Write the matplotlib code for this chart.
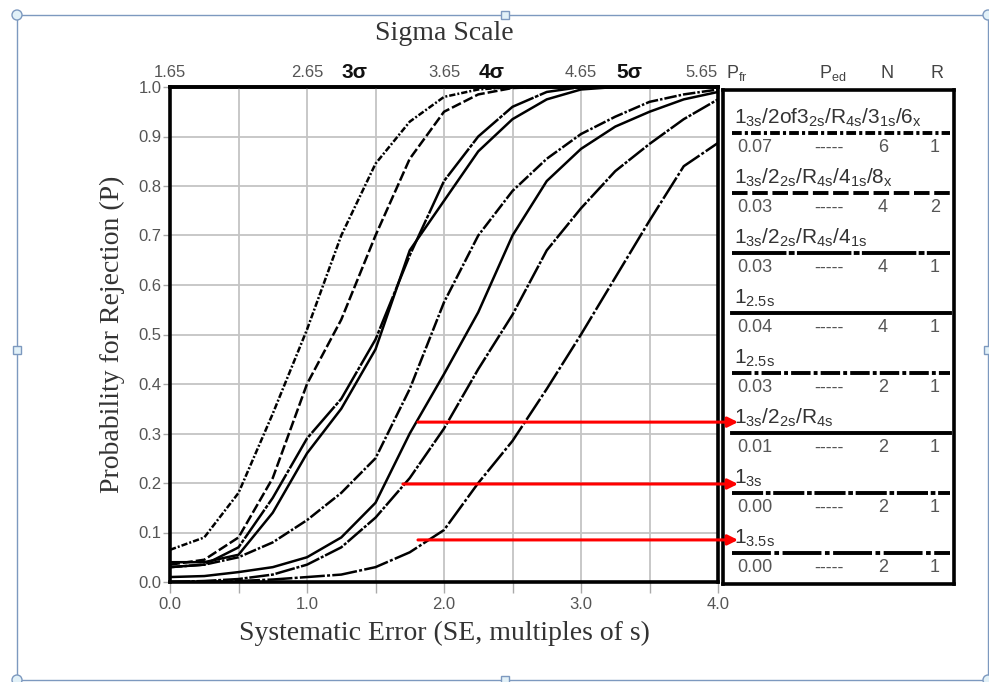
import matplotlib
matplotlib.use('Agg')
import matplotlib.pyplot as plt
from matplotlib.patches import Rectangle, Circle
import numpy as np

plt.rcParams['font.family'] = ['Liberation Sans', 'DejaVu Sans']
plt.rcParams['mathtext.fontset'] = 'custom'
plt.rcParams['mathtext.rm'] = 'Liberation Sans'
plt.rcParams['mathtext.it'] = 'Liberation Sans:italic'
plt.rcParams['mathtext.bf'] = 'Liberation Sans:bold'

se = [0.0, 0.25, 0.5, 0.75, 1.0, 1.25, 1.5, 1.75, 2.0,
      2.25, 2.5, 2.75, 3.0, 3.25, 3.5, 3.75, 4.0]

# probability for rejection, one list per QC procedure (legend order)
p_13s_2of32s_r4s_31s_6x = [0.065, 0.09, 0.18, 0.34, 0.51, 0.70, 0.845, 0.93, 0.98,
                           0.995, 1.0, 1.0, 1.0, 1.0, 1.0, 1.0, 1.0]
p_13s_22s_r4s_41s_8x = [0.035, 0.045, 0.09, 0.21, 0.40, 0.53, 0.70, 0.855, 0.95,
                        0.985, 0.998, 1.0, 1.0, 1.0, 1.0, 1.0, 1.0]
p_13s_22s_r4s_41s = [0.03, 0.035, 0.07, 0.17, 0.29, 0.37, 0.49, 0.66, 0.81,
                     0.90, 0.96, 0.99, 1.0, 1.0, 1.0, 1.0, 1.0]
p_125s_n4 = [0.04, 0.04, 0.055, 0.14, 0.26, 0.35, 0.47, 0.67, 0.77,
             0.87, 0.935, 0.975, 0.995, 1.0, 1.0, 1.0, 1.0]
p_125s_n2 = [0.03, 0.035, 0.05, 0.08, 0.125, 0.18, 0.25, 0.39, 0.565,
             0.70, 0.79, 0.855, 0.905, 0.94, 0.97, 0.985, 0.995]
p_13s_22s_r4s = [0.01, 0.012, 0.02, 0.03, 0.05, 0.09, 0.16, 0.30, 0.42,
                 0.545, 0.70, 0.81, 0.875, 0.92, 0.95, 0.975, 0.99]
p_13s = [0.0, 0.002, 0.006, 0.015, 0.035, 0.07, 0.13, 0.21, 0.31,
         0.43, 0.54, 0.67, 0.755, 0.83, 0.885, 0.935, 0.975]
p_135s = [0.0, 0.0, 0.002, 0.005, 0.01, 0.015, 0.03, 0.06, 0.105,
          0.20, 0.285, 0.39, 0.50, 0.615, 0.73, 0.84, 0.887]

curves = [p_13s_2of32s_r4s_31s_6x, p_13s_22s_r4s_41s_8x, p_13s_22s_r4s_41s,
          p_125s_n4, p_125s_n2, p_13s_22s_r4s, p_13s, p_135s]

rule_labels = [r'$\mathregular{1_{3s}/2of3_{2s}/R_{4s}/3_{1s}/6_{x}}$',
               r'$\mathregular{1_{3s}/2_{2s}/R_{4s}/4_{1s}/8_{x}}$',
               r'$\mathregular{1_{3s}/2_{2s}/R_{4s}/4_{1s}}$',
               r'$\mathregular{1_{2.5s}}$',
               r'$\mathregular{1_{2.5s}}$',
               r'$\mathregular{1_{3s}/2_{2s}/R_{4s}}$',
               r'$\mathregular{1_{3s}}$',
               r'$\mathregular{1_{3.5s}}$']
pfr_vals = ['0.07', '0.03', '0.03', '0.04', '0.03', '0.01', '0.00', '0.00']
ped_vals = ['-----'] * 8
n_vals = ['6', '4', '4', '4', '2', '2', '2', '2']
r_vals = ['1', '2', '1', '1', '1', '1', '1', '1']

sigma_ticks = [1.65, 2.65, 3.65, 4.65, 5.65]
sigma_marks = [3, 4, 5]

# red arrows: P level and SE where each one starts
arrow_p = [0.323, 0.198, 0.085]
arrow_se = [1.81, 1.70, 1.81]

styles = [(0, (2.5, 0.8, 0.8, 0.8)), (0, (4, 1.2)), (0, (14, 0.6, 1.5, 0.6)), '-',
          (0, (5, 0.8, 1, 0.8)), '-', (0, (8, 0.7, 1.2, 0.7)), (0, (10, 0.9, 1.2, 0.9))]

W, H = 989, 682


def box(l, t, r, b):
    return [l / W, 1 - b / H, (r - l) / W, (b - t) / H]


fig = plt.figure(figsize=(W / 100, H / 100), dpi=100)

# selection frame around the picture
ov = fig.add_axes([0, 0, 1, 1], zorder=-1)
ov.set_xlim(0, W)
ov.set_ylim(H, 0)
ov.axis('off')
edge = '#7d99bf'
ov.add_patch(Rectangle((17, 15), 971, 665, fill=False, ec=edge, lw=1.0))
for cx, cy in [(17, 15), (988, 15), (17, 680), (988, 680)]:
    ov.add_patch(Circle((cx, cy), 5, fc='#e2f1f8', ec=edge, lw=1.0))
for cx, cy in [(505, 15), (505, 680), (17, 350), (988, 350)]:
    ov.add_patch(Rectangle((cx - 4, cy - 4), 8, 8, fc='#e2f1f8', ec=edge, lw=1.0))

ax = fig.add_axes(box(170, 87, 718, 582), zorder=3)
for p, ls in zip(curves, styles):
    ax.plot(se, p, color='black', lw=1.8, ls=ls, zorder=3)

ax.set_xlim(0, 4)
ax.set_ylim(0, 1)
xt = np.arange(0, 4.01, 0.5)
ax.set_xticks(xt)
ax.set_xticklabels([f'{v:.1f}' if v == int(v) else '' for v in xt])
yt = np.arange(0, 1.001, 0.1)
ax.set_yticks(yt)
ax.set_yticklabels([f'{v:.1f}' for v in yt])
ax.grid(color='#c4c4c4', lw=1.3)
ax.tick_params(colors='#555', labelsize=12, width=1)
ax.tick_params(axis='x', length=8, color='#aaa', pad=3)
ax.tick_params(axis='y', length=5, color='#aaa', pad=1)
for sp in ax.spines.values():
    sp.set_linewidth(2.6)

secax = ax.secondary_xaxis('top', functions=(lambda s: s + 1.65, lambda g: g - 1.65))
secax.set_xticks(sigma_ticks)
secax.set_xticklabels([f'{v:.2f}' for v in sigma_ticks])
secax.tick_params(length=0, pad=5, labelsize=12, colors='#555')
secax.spines['top'].set_linewidth(2.6)
secax.get_xticklabels()[-1].set_ha('right')
for s in sigma_marks:
    ax.text(s - 1.65, 1.03, f'{s}σ', ha='center', va='center', fontsize=15,
            fontweight='bold', color='#111', clip_on=False)

ax.set_xlabel('Systematic Error (SE, multiples of s)', family='Liberation Serif',
              fontsize=20, color='#333', labelpad=6)
ax.set_ylabel('Probability for Rejection (P)', family='Liberation Serif',
              fontsize=20, color='#333', labelpad=10)
fig.text(444 / W, 1 - 33 / H, 'Sigma Scale', family='Liberation Serif',
         fontsize=20, color='#333', ha='center', va='center')

for p, s0 in zip(arrow_p, arrow_se):
    ax.annotate('', xy=(4.146, p), xytext=(s0, p), annotation_clip=False,
                arrowprops=dict(arrowstyle='-|>', color='#ff0000', lw=2.2,
                                mutation_scale=15, shrinkA=0, shrinkB=0))

# legend / table panel
pan = fig.add_axes(box(723, 90, 954, 584), zorder=2)
pan.set_xlim(0, 231)
pan.set_ylim(494, 0)
pan.set_xticks([])
pan.set_yticks([])
for sp in pan.spines.values():
    sp.set_linewidth(2.6)

for i in range(len(rule_labels)):
    y0 = 43 + 60 * i
    pan.plot([9, 227], [y0, y0], color='black', lw=2.8, ls=styles[i])
    pan.text(11, y0 - 9, rule_labels[i], fontsize=15, color='#333', va='baseline')
    pan.text(14, y0 + 15, pfr_vals[i], fontsize=13, color='#555', va='center', ha='left')
    pan.text(106, y0 + 15, ped_vals[i], fontsize=13, color='#555', va='center', ha='center')
    pan.text(160, y0 + 15, n_vals[i], fontsize=13, color='#555', va='center', ha='center')
    pan.text(212, y0 + 15, r_vals[i], fontsize=13, color='#555', va='center', ha='center')

pan.text(3, -12, r'$\mathregular{P_{fr}}$', fontsize=13, color='#444', va='baseline', clip_on=False)
pan.text(96, -12, r'$\mathregular{P_{ed}}$', fontsize=13, color='#444', va='baseline', clip_on=False)
pan.text(164, -12, 'N', fontsize=13, color='#444', va='baseline', ha='center', clip_on=False)
pan.text(214, -12, 'R', fontsize=13, color='#444', va='baseline', ha='center', clip_on=False)

fig.savefig('out.png', dpi=100)
